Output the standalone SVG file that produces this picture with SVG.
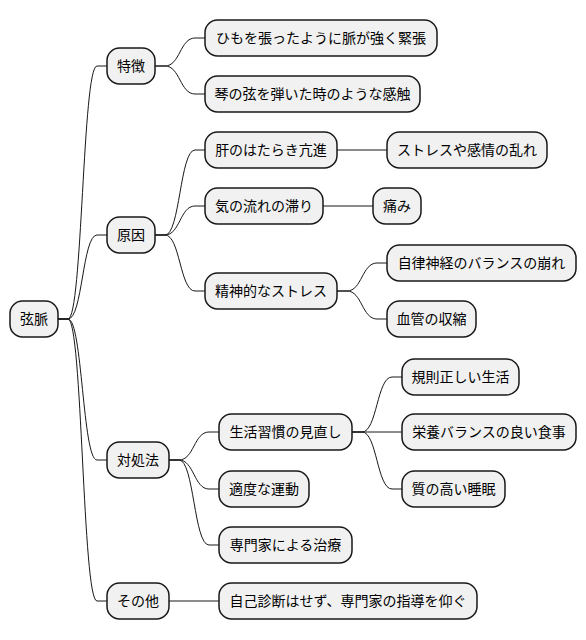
<svg xmlns="http://www.w3.org/2000/svg" width="586" height="640" viewBox="0 0 586 640">
<style>
.n rect{fill:#F1F1F1;stroke:#181818;stroke-width:1.5}
.n text{font-family:"Noto Sans CJK JP","Noto Sans",sans-serif;font-size:14px;fill:#000;text-anchor:middle}
#conn path{fill:none;stroke:#181818;stroke-width:1}
</style>
<rect width="586" height="640" fill="#FFFFFF"/>
<g id="conn">
<path d="M58,319 L68,319 C82.5,319 82.5,66 97,66 L107,66"/>
<path d="M58,319 L68,319 C82.5,319 82.5,235 97,235 L107,235"/>
<path d="M58,319 L68,319 C82.5,319 82.5,460 97,460 L107,460"/>
<path d="M58,319 L68,319 C82.5,319 82.5,601 97,601 L107,601"/>
<path d="M155,66 L165,66 C180,66 180,38 195,38 L205,38"/>
<path d="M155,66 L165,66 C180,66 180,94 195,94 L205,94"/>
<path d="M155,235 L165,235 C180,235 180,150 195,150 L205,150"/>
<path d="M155,235 L165,235 C180,235 180,206 195,206 L205,206"/>
<path d="M155,235 L165,235 C180,235 180,291 195,291 L205,291"/>
<path d="M169,460 L179,460 C194,460 194,432 209,432 L219,432"/>
<path d="M169,460 L179,460 C194,460 194,489 209,489 L219,489"/>
<path d="M169,460 L179,460 C194,460 194,545 209,545 L219,545"/>
<path d="M169,601 L219,601"/>
<path d="M337,150 L387,150"/>
<path d="M323,206 L373,206"/>
<path d="M337,291 L347,291 C362,291 362,263 377,263 L387,263"/>
<path d="M337,291 L347,291 C362,291 362,319 377,319 L387,319"/>
<path d="M352,432 L362,432 C377,432 377,377 392,377 L402,377"/>
<path d="M352,432 L402,432"/>
<path d="M352,432 L362,432 C377,432 377,489 392,489 L402,489"/>
</g>
<g id="root" class="n"><rect x="10" y="301" width="48" height="36" rx="12.5"/><text x="34" y="324">弦脈</text></g>
<g id="tokucho" class="n"><rect x="107" y="48" width="48" height="36" rx="12.5"/><text x="131" y="71">特徴</text></g>
<g id="himo" class="n"><rect x="205" y="20" width="232" height="36" rx="12.5"/><text x="321" y="43">ひもを張ったように脈が強く緊張</text></g>
<g id="koto" class="n"><rect x="205" y="76" width="215" height="36" rx="12.5"/><text x="312.5" y="99">琴の弦を弾いた時のような感触</text></g>
<g id="genin" class="n"><rect x="107" y="217" width="48" height="36" rx="12.5"/><text x="131" y="240">原因</text></g>
<g id="kan" class="n"><rect x="205" y="132" width="132" height="36" rx="12.5"/><text x="271" y="155">肝のはたらき亢進</text></g>
<g id="stress1" class="n"><rect x="387" y="132" width="160" height="36" rx="12.5"/><text x="467" y="155">ストレスや感情の乱れ</text></g>
<g id="ki" class="n"><rect x="205" y="188" width="118" height="36" rx="12.5"/><text x="264" y="211">気の流れの滞り</text></g>
<g id="itami" class="n"><rect x="373" y="188" width="48" height="36" rx="12.5"/><text x="397" y="211">痛み</text></g>
<g id="seishin" class="n"><rect x="205" y="273" width="132" height="36" rx="12.5"/><text x="271" y="296">精神的なストレス</text></g>
<g id="jiritsu" class="n"><rect x="387" y="245" width="189" height="36" rx="12.5"/><text x="481.5" y="268">自律神経のバランスの崩れ</text></g>
<g id="kekkan" class="n"><rect x="387" y="301" width="89" height="36" rx="12.5"/><text x="431.5" y="324">血管の収縮</text></g>
<g id="taisho" class="n"><rect x="107" y="442" width="62" height="36" rx="12.5"/><text x="138" y="465">対処法</text></g>
<g id="seikatsu" class="n"><rect x="219" y="414" width="133" height="36" rx="12.5"/><text x="285.5" y="437">生活習慣の見直し</text></g>
<g id="kisoku" class="n"><rect x="402" y="359" width="117" height="36" rx="12.5"/><text x="460.5" y="382">規則正しい生活</text></g>
<g id="eiyo" class="n"><rect x="402" y="414" width="174" height="36" rx="12.5"/><text x="489" y="437">栄養バランスの良い食事</text></g>
<g id="suimin" class="n"><rect x="402" y="471" width="103" height="36" rx="12.5"/><text x="453.5" y="494">質の高い睡眠</text></g>
<g id="undo" class="n"><rect x="219" y="471" width="90" height="36" rx="12.5"/><text x="264" y="494">適度な運動</text></g>
<g id="senmon" class="n"><rect x="219" y="527" width="133" height="36" rx="12.5"/><text x="285.5" y="550">専門家による治療</text></g>
<g id="sonota" class="n"><rect x="107" y="583" width="62" height="36" rx="12.5"/><text x="138" y="606">その他</text></g>
<g id="jiko" class="n"><rect x="219" y="583" width="258" height="36" rx="12.5"/><text x="348" y="606">自己診断はせず、専門家の指導を仰ぐ</text></g>
</svg>
